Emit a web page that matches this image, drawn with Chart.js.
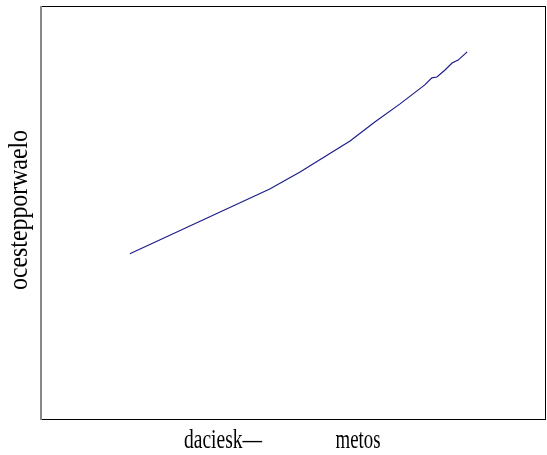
<!DOCTYPE html>
<html>
<head>
<meta charset="utf-8">
<script src="https://cdn.jsdelivr.net/npm/chart.js@4"></script>
<style>
  body { margin: 0; background: #fff; }
  #wrap { width: 547px; height: 455px; }
</style>
</head>
<body>
<div id="wrap"><canvas id="lineChart"></canvas></div>
<script>
// values (x and y in a 0..100 data space)
var xValues = [17.6, 31.5, 45.3, 51.3, 61.2, 66.1, 71.1, 76.0, 77.4, 78.4, 80.0, 81.4, 82.6, 84.4];
var yValues = [40.0, 47.9, 55.7, 59.8, 67.3, 71.9, 76.3, 80.9, 82.6, 82.8, 84.5, 86.2, 86.9, 88.9];
var yTitle = 'ocestepporwaelo';
var xTitles = ['daciesk\u2014', 'metos'];

var points = xValues.map(function (x, i) { return { x: x, y: yValues[i] }; });

// draws the frame and the squeezed serif titles
var frame = {
    id: 'frame',
    afterDraw: function (chart) {
        var c = chart.ctx, a = chart.chartArea;
        c.save();
        c.strokeStyle = '#000';
        c.lineWidth = 1;
        c.beginPath();
        c.moveTo(a.left, a.top + 0.5); c.lineTo(a.right, a.top + 0.5);
        c.moveTo(a.right - 0.5, a.top); c.lineTo(a.right - 0.5, a.bottom);
        c.moveTo(a.left, a.bottom + 0.5); c.lineTo(a.right, a.bottom + 0.5);
        c.stroke();
        c.strokeStyle = '#888';
        c.lineWidth = 2;
        c.beginPath();
        c.moveTo(a.left, a.top); c.lineTo(a.left, a.bottom + 1);
        c.stroke();

        c.fillStyle = '#000';
        c.font = '27px "Liberation Serif"';
        c.textBaseline = 'middle';
        c.textAlign = 'center';
        function squeezed(text, cx, cy, w, rot) {
            var m = c.measureText(text).width;
            c.save();
            c.translate(cx, cy);
            if (rot) c.rotate(-Math.PI / 2);
            c.scale(w / m, 1);
            c.fillText(text, 0, 0);
            c.restore();
        }
        squeezed(yTitle, 20, 210, 160, true);
        squeezed(xTitles[0], 223, 441, 78, false);
        squeezed(xTitles[1], 358, 441, 45, false);
        c.restore();
    }
};

var ctx = document.getElementById('lineChart').getContext('2d');
var myChart = new Chart(ctx, {
    type: 'line',
    data: {
        datasets: [{
            data: points,
            borderColor: '#1c1c8a',
            borderWidth: 1.2,
            pointRadius: 0,
            tension: 0,
            fill: false
        }]
    },
    options: {
        responsive: true,
        maintainAspectRatio: false,
        animation: false,
        layout: { padding: { left: 41, right: 1, top: 6, bottom: 36 } },
        plugins: { legend: { display: false }, tooltip: { enabled: false } },
        scales: {
            x: { type: 'linear', min: 0, max: 100, display: false },
            y: { min: 0, max: 100, display: false }
        }
    },
    plugins: [frame]
});
</script>
</body>
</html>
